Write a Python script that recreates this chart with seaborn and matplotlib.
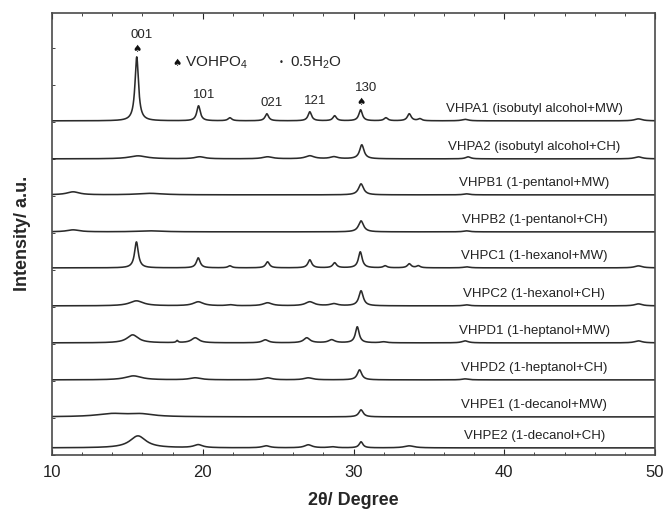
import numpy as np
import pandas as pd
import seaborn as sns
import matplotlib.pyplot as plt
from matplotlib.ticker import MultipleLocator

# peaks: (2theta, height, FWHM)
vhpa1 = [(15.62, 64, 0.28), (19.72, 15, 0.28), (21.8, 3, 0.3), (24.25, 7, 0.28),
         (27.1, 9, 0.28), (28.75, 5, 0.28), (30.47, 11, 0.28), (32.15, 3, 0.3),
         (33.7, 7, 0.3), (34.4, 2, 0.3), (37.4, 1.5, 0.5), (48.9, 2, 0.6)]
vhpa2 = [(15.7, 3, 1.4), (19.8, 2, 0.8), (24.3, 2, 0.8), (27.1, 3, 0.7),
         (28.7, 2, 0.6), (30.55, 14, 0.35), (37.6, 2, 0.4), (48.9, 2, 0.6)]
vhpb1 = [(11.4, 3, 1.0), (16.5, 1.5, 2.0), (30.5, 11, 0.4), (37.5, 1, 0.5)]
vhpb2 = [(11.4, 2, 1.0), (16.5, 1, 2.0), (30.5, 11, 0.4), (37.5, 1, 0.5)]
vhpc1 = [(15.6, 26, 0.3), (19.7, 10, 0.3), (21.8, 2, 0.3), (24.3, 6, 0.3),
         (27.1, 8, 0.3), (28.75, 5, 0.3), (30.45, 16, 0.3), (32.1, 2, 0.3),
         (33.7, 4, 0.3), (34.3, 2, 0.3), (37.5, 1, 0.5), (48.9, 2, 0.6)]
vhpc2 = [(15.6, 5, 1.1), (19.7, 4, 0.8), (21.8, 1, 0.5), (24.3, 3, 0.7),
         (27.1, 4, 0.7), (28.7, 2, 0.6), (30.5, 15, 0.35), (37.5, 1, 0.5),
         (48.9, 2, 0.6)]
vhpd1 = [(15.35, 8, 0.9), (18.3, 2, 0.15), (19.5, 5, 0.6), (24.15, 3, 0.5),
         (26.9, 5, 0.5), (28.55, 3, 0.5), (30.25, 16, 0.3), (32.0, 1, 0.5),
         (37.4, 2, 0.5), (48.9, 2, 0.6)]
vhpd2 = [(15.4, 4, 1.3), (19.5, 2, 0.9), (24.3, 2, 0.7), (27.0, 2, 0.7),
         (30.4, 10, 0.35), (37.4, 1, 0.5)]
vhpe1 = [(14.0, 3, 2.5), (15.9, 2.5, 2.0), (30.5, 7, 0.35)]
vhpe2 = [(15.7, 12, 1.3), (19.7, 3, 0.7), (24.2, 2, 0.6), (27.0, 3, 0.6),
         (28.6, 1, 0.6), (30.5, 6, 0.3), (33.7, 2, 0.8)]

samples = [vhpe2, vhpe1, vhpd2, vhpd1, vhpc2, vhpc1, vhpb2, vhpb1, vhpa2, vhpa1]
labels = ["VHPE2 (1-decanol+CH)", "VHPE1 (1-decanol+MW)",
          "VHPD2 (1-heptanol+CH)", "VHPD1 (1-heptanol+MW)",
          "VHPC2 (1-hexanol+CH)", "VHPC1 (1-hexanol+MW)",
          "VHPB2 (1-pentanol+CH)", "VHPB1 (1-pentanol+MW)",
          "VHPA2 (isobutyl alcohol+CH)", "VHPA1 (isobutyl alcohol+MW)"]
offsets = [7, 38, 75, 112, 149, 187, 223, 260, 296, 334]

hkl_labels = ["001", "101", "021", "121", "130"]
hkl_pos = [15.62, 19.72, 24.25, 27.1, 30.47]
hkl_height = [64, 15, 7, 9, 11]

two_theta = np.linspace(10, 50, 2001)


def pattern(peaks):
    y = np.zeros_like(two_theta)
    for c, h, w in peaks:
        g = (w / 2) ** 2
        y += h * g / ((two_theta - c) ** 2 + g)
    return y


sns.set_style("ticks")
plt.rcParams['font.family'] = ['Liberation Sans', 'DejaVu Sans']
plt.rcParams['mathtext.fontset'] = 'custom'
plt.rcParams['mathtext.rm'] = 'Liberation Sans'

fig = plt.figure(figsize=(6.67, 5.14), dpi=100)
ax = fig.add_axes([0.078, 0.115, 0.904, 0.86])

for peaks, lab, off in zip(samples, labels, offsets):
    df = pd.DataFrame({"x": two_theta, "y": pattern(peaks) + off})
    sns.lineplot(data=df, x="x", y="y", ax=ax, color="#2b2b2b", linewidth=1.15)
    ax.text(42.0, off + 6, lab, ha="center", va="bottom", fontsize=9.5, color="#222222")

# hkl annotations on the top pattern
top = offsets[-1]
for lab, pos, h in zip(hkl_labels, hkl_pos, hkl_height):
    if lab in ("001", "130"):
        ax.text(pos, top + h + 3, "\u2660", ha="center", va="bottom", fontsize=7.5,
                family=['DejaVu Sans'], color="#111111")
        ax.text(pos + 0.35, top + h + 16, lab, ha="center", va="bottom", fontsize=9.5)
    else:
        ax.text(pos + 0.35, top + h + 5, lab, ha="center", va="bottom", fontsize=9.5)

ax.text(18.3, 392, "\u2660", ha="center", va="center", fontsize=7.5,
        family=['DejaVu Sans'], color="#111111")
ax.text(18.8, 392, "VOHPO$_4$", ha="left", va="center", fontsize=11)
ax.text(25.2, 392, "\u2022", ha="center", va="center", fontsize=6,
        family=['DejaVu Sans'])
ax.text(25.8, 392, "0.5H$_2$O", ha="left", va="center", fontsize=11)

ax.set_xlim(10, 50)
ax.set_ylim(0, 442)
ax.xaxis.set_major_locator(MultipleLocator(10))
ax.xaxis.set_minor_locator(MultipleLocator(2))
ax.yaxis.set_minor_locator(MultipleLocator(37))
ax.set_yticks([])
ax.tick_params(axis="x", which="both", direction="in", top=True, labelsize=12, pad=7,
               labelcolor="#222222")
ax.tick_params(axis="x", which="major", length=4)
ax.tick_params(axis="x", which="minor", length=2.5)
ax.tick_params(axis="y", which="minor", direction="in", length=2.5, left=True)
for s in ax.spines.values():
    s.set_color("#4a4a4a")
    s.set_linewidth(1.2)

ax.set_xlabel("2\u03b8/ Degree", fontsize=13, fontweight="bold", labelpad=9)
ax.set_ylabel("Intensity/ a.u.", fontsize=13, fontweight="bold", labelpad=12)

fig.savefig("out.png", dpi=100)
